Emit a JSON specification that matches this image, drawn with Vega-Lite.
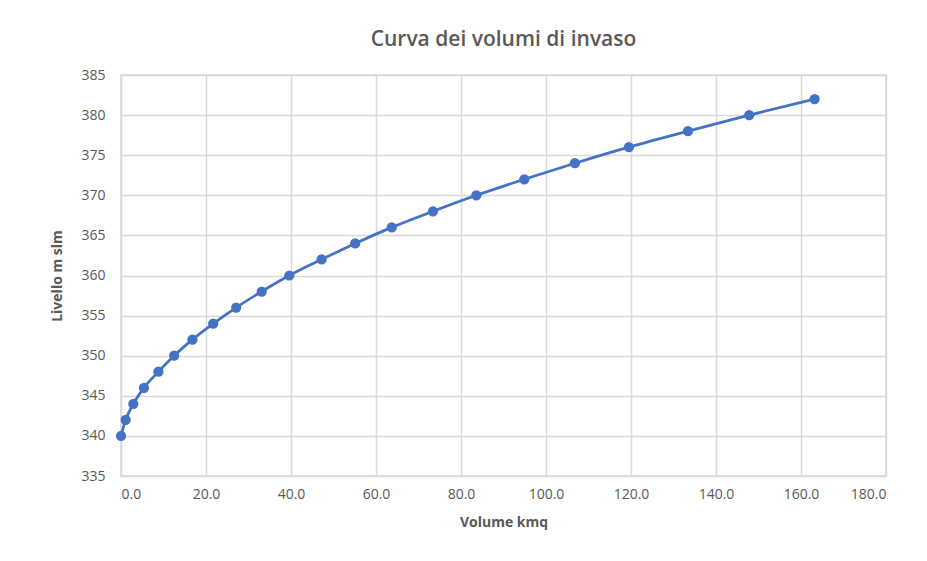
{
  "$schema": "https://vega.github.io/schema/vega-lite/v6.json",
  "autosize": {"type": "none"},
  "padding": {"left": 121, "top": 75, "right": 41, "bottom": 85},
  "width": 765,
  "height": 401,
  "background": "white",
  "title": {
    "text": "Curva dei volumi di invaso",
    "font": "Open Sans",
    "fontSize": 21,
    "fontWeight": 600,
    "color": "#595959",
    "anchor": "middle",
    "offset": 18
  },
  "config": {
    "view": {"stroke": "#d9d9d9", "strokeWidth": 1.5},
    "axis": {
      "labelFont": "Open Sans",
      "labelFontSize": 14,
      "labelColor": "#595959",
      "titleFont": "Open Sans",
      "titleFontSize": 14,
      "titleFontWeight": "bold",
      "titleColor": "#595959",
      "gridColor": "#d9d9d9",
      "gridWidth": 1.5,
      "domain": false,
      "ticks": false
    }
  },
  "data": {
    "values": [
      {"volume": 0.0, "livello": 340},
      {"volume": 1.1, "livello": 342},
      {"volume": 2.9, "livello": 344},
      {"volume": 5.4, "livello": 346},
      {"volume": 8.8, "livello": 348},
      {"volume": 12.5, "livello": 350},
      {"volume": 16.8, "livello": 352},
      {"volume": 21.7, "livello": 354},
      {"volume": 27.1, "livello": 356},
      {"volume": 33.1, "livello": 358},
      {"volume": 39.6, "livello": 360},
      {"volume": 47.2, "livello": 362},
      {"volume": 55.1, "livello": 364},
      {"volume": 63.7, "livello": 366},
      {"volume": 73.4, "livello": 368},
      {"volume": 83.6, "livello": 370},
      {"volume": 94.9, "livello": 372},
      {"volume": 106.8, "livello": 374},
      {"volume": 119.5, "livello": 376},
      {"volume": 133.4, "livello": 378},
      {"volume": 147.8, "livello": 380},
      {"volume": 163.2, "livello": 382}
    ]
  },
  "encoding": {
    "x": {
      "field": "volume",
      "type": "quantitative",
      "title": "Volume kmq",
      "scale": {"domain": [0, 180], "nice": false, "zero": false},
      "axis": {"values": [0, 20, 40, 60, 80, 100, 120, 140, 160, 180], "format": ".1f", "labelPadding": 11, "titlePadding": 14}
    },
    "y": {
      "field": "livello",
      "type": "quantitative",
      "title": "Livello m slm",
      "scale": {"domain": [335, 385], "nice": false, "zero": false},
      "axis": {"values": [335, 340, 345, 350, 355, 360, 365, 370, 375, 380, 385], "labelPadding": 16, "titlePadding": 16}
    }
  },
  "layer": [
    {"mark": {"type": "line", "color": "#4472C4", "strokeWidth": 2.75, "interpolate": "monotone"}},
    {"mark": {"type": "point", "filled": true, "color": "#4472C4", "size": 105, "opacity": 1}}
  ]
}
